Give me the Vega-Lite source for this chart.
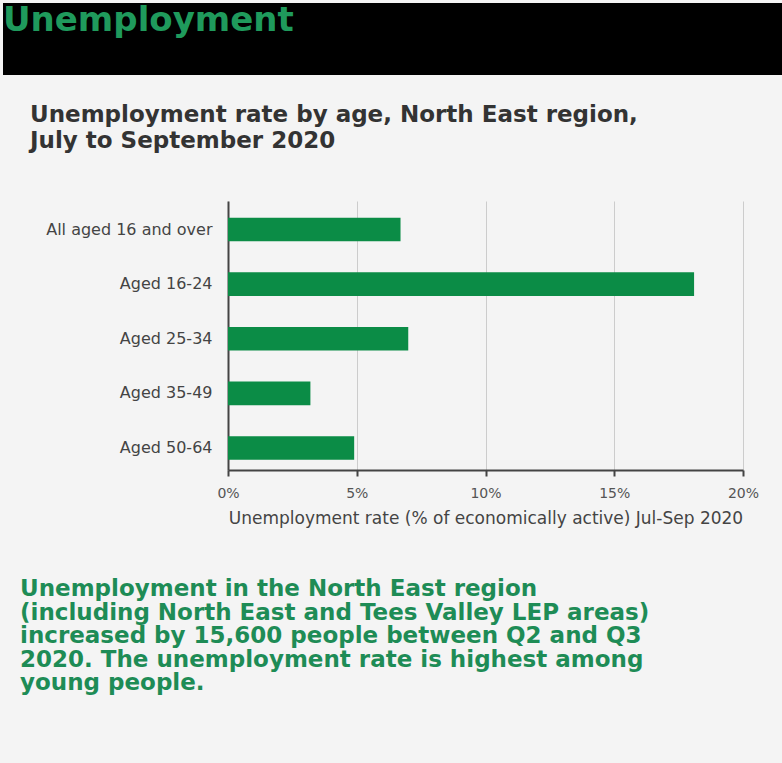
{
  "$schema": "https://vega.github.io/schema/vega-lite/v6.json",
  "background": "#f4f4f4",
  "padding": {"left": 3, "top": 3, "right": 0, "bottom": 68},
  "spacing": 29,
  "config": {
    "view": {"stroke": null},
    "font": "DejaVu Sans"
  },
  "title": {
    "text": [
      "Unemployment in the North East region",
      "(including North East and Tees Valley LEP areas)",
      "increased by 15,600 people between Q2 and Q3",
      "2020. The unemployment rate is highest among",
      "young people."
    ],
    "orient": "bottom",
    "anchor": "start",
    "frame": "group",
    "dx": 17,
    "offset": 52,
    "fontSize": 23,
    "lineHeight": 23.5,
    "fontWeight": "bold",
    "color": "#1e8c56",
    "font": "DejaVu Sans"
  },
  "vconcat": [
    {
      "width": 779,
      "height": 72,
      "view": {"fill": "#000000", "stroke": null},
      "title": {
        "text": "Unemployment",
        "anchor": "start",
        "frame": "group",
        "orient": "top",
        "offset": -35,
        "fontSize": 34,
        "fontWeight": "bold",
        "color": "#1f9a5c",
        "font": "DejaVu Sans"
      },
      "data": {"values": []},
      "mark": {"type": "point"},
      "encoding": {}
    },
    {
      "width": 779,
      "height": 269,
      "title": {
        "text": ["Unemployment rate by age, North East region,", "July to September 2020"],
        "anchor": "start",
        "frame": "group",
        "dx": 27,
        "offset": 48,
        "fontSize": 23,
        "lineHeight": 26,
        "fontWeight": "bold",
        "color": "#333333",
        "font": "DejaVu Sans"
      },
      "data": {
        "values": [
          {"group": "All aged 16 and over", "rate": 6.7},
          {"group": "Aged 16-24", "rate": 18.1},
          {"group": "Aged 25-34", "rate": 7.0},
          {"group": "Aged 35-49", "rate": 3.2},
          {"group": "Aged 50-64", "rate": 4.9}
        ]
      },
      "mark": {"type": "bar", "color": "#0b8c46"},
      "encoding": {
        "y": {
          "field": "group",
          "type": "nominal",
          "sort": null,
          "scale": {"paddingInner": 0.568, "paddingOuter": 0.247, "align": 0.62},
          "axis": {
            "title": null,
            "offset": -225,
            "domainColor": "#444444",
            "domainWidth": 2,
            "ticks": false,
            "labelFontSize": 16,
            "labelColor": "#444444",
            "labelPadding": 16,
            "grid": false
          }
        },
        "x": {
          "field": "rate",
          "type": "quantitative",
          "scale": {"domain": [0, 20], "range": [225, 740]},
          "axis": {
            "title": "Unemployment rate (% of economically active) Jul-Sep 2020",
            "values": [0, 5, 10, 15, 20],
            "labelExpr": "datum.value + '%'",
            "labelFlush": false,
            "grid": true,
            "gridColor": "#cccccc",
            "gridWidth": 1,
            "domainColor": "#444444",
            "domainWidth": 2,
            "tickColor": "#444444",
            "tickSize": 6,
            "tickWidth": 2,
            "labelPadding": 10,
            "labelFontSize": 14,
            "labelColor": "#555555",
            "titleFontSize": 17,
            "titleFontWeight": "normal",
            "titleColor": "#444444",
            "titlePadding": 10
          }
        }
      }
    }
  ]
}
